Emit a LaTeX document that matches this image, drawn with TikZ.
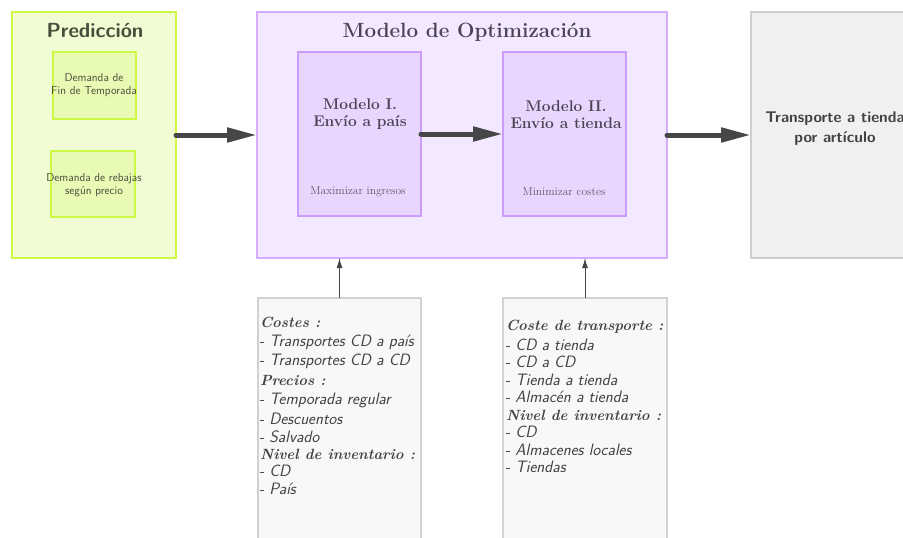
\documentclass[tikz,border=0pt]{standalone}
\usepackage{fontspec}
\usetikzlibrary{arrows.meta}

\definecolor{predfill}{RGB}{242,252,212}
\definecolor{predline}{RGB}{206,248,70}
\definecolor{predinner}{RGB}{232,250,180}
\definecolor{predtext}{RGB}{72,78,58}
\definecolor{optfill}{RGB}{242,232,255}
\definecolor{optline}{RGB}{212,172,252}
\definecolor{optinner}{RGB}{232,214,255}
\definecolor{optinline}{RGB}{204,156,250}
\definecolor{opttext}{RGB}{76,68,84}
\definecolor{outfill}{RGB}{240,240,240}
\definecolor{outline}{RGB}{206,206,206}
\definecolor{notefill}{RGB}{248,248,248}
\definecolor{noteline}{RGB}{210,210,210}
\definecolor{darktext}{RGB}{66,66,66}
\definecolor{arrowgray}{RGB}{70,70,72}

\tikzset{
  every node/.style={inner sep=0pt, outer sep=0pt},
  panel/.style={rectangle, draw, line width=2pt},
  predpanel/.style={panel, draw=predline, fill=predfill},
  predcell/.style={panel, draw=predline, fill=predinner},
  optpanel/.style={panel, draw=optline, fill=optfill},
  optcell/.style={panel, draw=optinline, fill=optinner},
  outpanel/.style={panel, draw=outline, fill=outfill},
  notepanel/.style={panel, draw=noteline, fill=notefill},
  predlabel/.style={font=\sffamily\fontsize{11.5}{13.5}\selectfont, text=predtext, align=center},
  modellabel/.style={font=\bfseries\fontsize{15.5}{17}\selectfont, text=opttext, align=center},
  goallabel/.style={font=\fontsize{11.5}{13}\selectfont, text=opttext!90, align=center},
  notehead/.style={font=\bfseries\itshape\fontsize{14.8}{17}\selectfont, text=darktext, anchor=base west},
  noteitem/.style={font=\sffamily\itshape\fontsize{16.5}{18}\selectfont, text=darktext, anchor=base west},
  bigarrow/.style={draw=arrowgray, line width=5pt, line cap=round, -{Triangle[length=30pt,width=14pt]}},
  smallarrow/.style={draw=arrowgray, line width=1pt, -{Latex[length=10pt,width=6pt]}},
}

\begin{document}
\begin{tikzpicture}[x=1pt, y=-1pt]
\useasboundingbox (0,0) rectangle (903,538);

% Prediction block
\node[predpanel, minimum width=164pt, minimum height=246pt] (pred) at (94,135) {};
\node[font=\sffamily\bfseries\fontsize{20.4}{24}\selectfont, text=predtext] (predtitle) at (95,31) {Predicción};
\node[predcell, minimum width=83pt, minimum height=67pt] (demfin) at (94.5,85.5) {};
\node[predlabel] (demfintxt) at (94,85) {Demanda de\\Fin de Temporada};
\node[predcell, minimum width=84pt, minimum height=66pt] (demreb) at (93,184) {};
\node[predlabel] (demrebtxt) at (94,185) {Demanda de rebajas\\según precio};

% Optimisation block
\node[optpanel, minimum width=410pt, minimum height=246pt] (opt) at (462,135) {};
\node[font=\bfseries\fontsize{20.6}{24}\selectfont, text=opttext] (opttitle) at (467,32) {Modelo de Optimización};
\node[optcell, minimum width=123pt, minimum height=164pt] (m1) at (359.5,134) {};
\node[modellabel] (m1txt) at (360,114) {Modelo I.\\Envío a país};
\node[goallabel] (m1goal) at (358,192) {Maximizar ingresos};
\node[optcell, minimum width=123pt, minimum height=164pt] (m2) at (564.5,134) {};
\node[modellabel] (m2txt) at (566,115) {Modelo II.\\Envío a tienda};
\node[goallabel] (m2goal) at (564,192) {Minimizar costes};

% Output block
\node[outpanel, minimum width=164pt, minimum height=246pt] (out) at (833,135) {};
\node[font=\sffamily\bfseries\fontsize{15.5}{20}\selectfont, text=darktext, align=center] (outtxt) at (835,129) {Transporte a tienda\\por artículo};

% Input notes
\node[notepanel, minimum width=163pt, minimum height=270pt] (in1) at (339.5,433) {};
\node[notepanel, minimum width=164pt, minimum height=270pt] (in2) at (585,433) {};

\node[notehead] (a1) at (260,327) {Costes :};
\node[noteitem] (a2) at (259,346) {- Transportes CD a país};
\node[noteitem] (a3) at (259,365) {- Transportes CD a CD};
\node[notehead] (a4) at (260,385) {Precios :};
\node[noteitem] (a5) at (259,404) {- Temporada regular};
\node[noteitem] (a6) at (259,424) {- Descuentos};
\node[noteitem] (a7) at (259,442) {- Salvado};
\node[notehead] (a8) at (260,459) {Nivel de inventario :};
\node[noteitem] (a9) at (259,476) {- CD};
\node[noteitem] (a10) at (259,494) {- País};

\node[notehead] (b1) at (506,330) {Coste de transporte :};
\node[noteitem] (b2) at (505,350) {- CD a tienda};
\node[noteitem] (b3) at (505,367) {- CD a CD};
\node[noteitem] (b4) at (505,385) {- Tienda a tienda};
\node[noteitem] (b5) at (505,402) {- Almacén a tienda};
\node[notehead] (b6) at (506,420) {Nivel de inventario :};
\node[noteitem] (b7) at (505,437) {- CD};
\node[noteitem] (b8) at (505,455) {- Almacenes locales};
\node[noteitem] (b9) at (505,472) {- Tiendas};

% Connectors
\draw[bigarrow] (pred.east) -- (opt.west);
\draw[bigarrow] (m1.east) -- (m2.west);
\draw[bigarrow] (opt.east) -- (out.west);
\draw[smallarrow] (in1.north) -- (in1.north |- opt.south);
\draw[smallarrow] (in2.north) -- (in2.north |- opt.south);
\end{tikzpicture}
\end{document}
